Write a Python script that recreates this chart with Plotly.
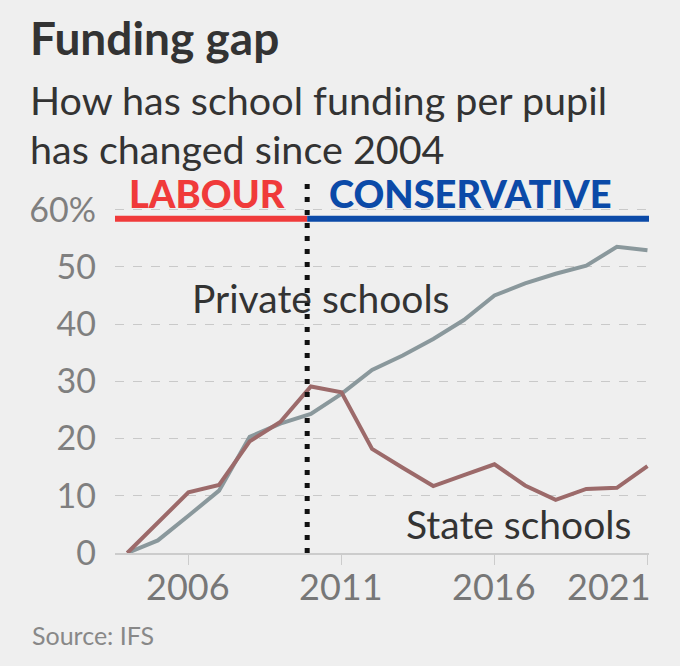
import plotly.graph_objects as go

years = list(range(2004, 2022))
private_schools = [0, 2.2, 6.5, 10.9, 20.3, 22.6, 24.3, 27.8, 32.0, 34.5, 37.4, 40.7, 45.0, 47.1, 48.8, 50.2, 53.5, 52.9]
state_schools = [0, 5.3, 10.6, 11.9, 19.5, 22.9, 29.1, 28.1, 18.2, 14.9, 11.7, 13.6, 15.5, 11.8, 9.3, 11.2, 11.4, 15.2]

x_tick_vals = [2006, 2011, 2016, 2021]
x_tick_text = ["2006", "2011", "2016", "2021"]
y_tick_vals = [0, 10, 20, 30, 40, 50, 60]
y_tick_text = ["0", "10", "20", "30", "40", "50", "60%"]

election_year = 2009.88
FONT = "Lato"
BG = "#efefef"

fig = go.Figure()
fig.add_trace(go.Scatter(x=years, y=private_schools, mode="lines",
                         line=dict(color="#8a989c", width=4), hoverinfo="skip"))
fig.add_trace(go.Scatter(x=years, y=state_schools, mode="lines",
                         line=dict(color="#9c6a6a", width=4), hoverinfo="skip"))

fig.update_layout(
    width=680, height=666,
    paper_bgcolor=BG, plot_bgcolor=BG,
    margin=dict(l=115, r=31, t=177, b=113),
    showlegend=False,
    font=dict(family=FONT, color="#333333"),
)
fig.update_xaxes(range=[2003.6, 2021.05], tickvals=x_tick_vals, showticklabels=False,
                 ticks="outside", ticklen=10, tickcolor="#cccccc", tickwidth=1,
                 showline=True, linecolor="#cccccc", linewidth=1.5,
                 showgrid=False, zeroline=False)
fig.update_yaxes(range=[0, 65.7], tickvals=y_tick_vals, ticktext=y_tick_text,
                 tickfont=dict(family=FONT, size=34, color="#7f7f7f"),
                 ticklabelstandoff=18,
                 showgrid=True, gridcolor="#c9c9c9", gridwidth=1, griddash="dash",
                 zeroline=False, showline=False)

# party bars
fig.add_shape(type="line", xref="x", yref="y", x0=2003.6, x1=election_year, y0=58.4, y1=58.4,
              line=dict(color="#f03a3a", width=6))
fig.add_shape(type="line", xref="x", yref="y", x0=election_year, x1=2021.05, y0=58.4, y1=58.4,
              line=dict(color="#0b4aa8", width=6))
# election divider
fig.add_shape(type="line", xref="x", yref="paper", x0=election_year, x1=election_year, y0=0, y1=1,
              line=dict(color="#111111", width=5, dash="5px,8px"))

ann = []
ann.append(dict(text="<b>Funding gap</b>", x=-0.163, y=1.37, xref="paper", yref="paper",
                xanchor="left", yanchor="middle", showarrow=False,
                font=dict(family=FONT, size=46, color="#333333")))
ann.append(dict(text="How has school funding per pupil", x=-0.163, y=1.205, xref="paper", yref="paper",
                xanchor="left", yanchor="middle", showarrow=False,
                font=dict(family=FONT, size=39.5, color="#333333")))
ann.append(dict(text="has changed since 2004", x=-0.163, y=1.076, xref="paper", yref="paper",
                xanchor="left", yanchor="middle", showarrow=False,
                font=dict(family=FONT, size=39.5, color="#333333")))
ann.append(dict(text="LABOUR", x=2006.6, y=0.957, xref="x", yref="paper",
                xanchor="center", yanchor="middle", showarrow=False,
                font=dict(family=FONT, size=38, color="#f03a3a", weight=900)))
ann.append(dict(text="CONSERVATIVE", x=2015.23, y=0.957, xref="x", yref="paper",
                xanchor="center", yanchor="middle", showarrow=False,
                font=dict(family=FONT, size=38, color="#0b4aa8", weight=900)))
ann.append(dict(text="Private schools", x=2010.33, y=44.5, xref="x", yref="y",
                xanchor="center", yanchor="middle", showarrow=False,
                font=dict(family=FONT, size=39, color="#333333")))
ann.append(dict(text="State schools", x=2016.77, y=5.0, xref="x", yref="y",
                xanchor="center", yanchor="middle", showarrow=False,
                font=dict(family=FONT, size=39, color="#333333")))
for v, t in zip(x_tick_vals, x_tick_text):
    last = v == x_tick_vals[-1]
    ann.append(dict(text=t, x=v, y=-0.088, xref="x", yref="paper",
                    xanchor="right" if last else "center", xshift=6 if last else 0,
                    yanchor="middle", showarrow=False,
                    font=dict(family=FONT, size=36, color="#777777")))
ann.append(dict(text="Source: IFS", x=-0.160, y=-0.217, xref="paper", yref="paper",
                xanchor="left", yanchor="middle", showarrow=False,
                font=dict(family=FONT, size=25, color="#888888")))
fig.update_layout(annotations=ann)

fig.write_html("out.html", config={"displayModeBar": False},
               post_script="document.body.style.margin='0';document.body.style.padding='0';"
                           "document.body.style.background='#efefef';")
